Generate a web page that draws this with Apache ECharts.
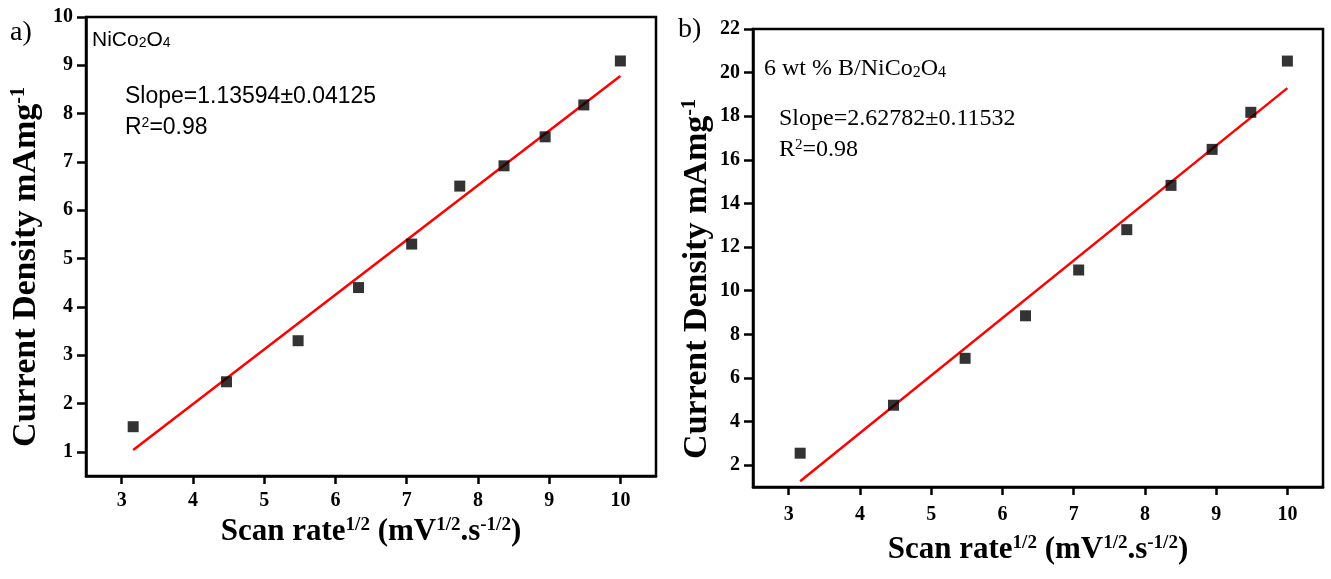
<!DOCTYPE html>
<html>
<head>
<meta charset="utf-8">
<style>
html,body{margin:0;padding:0;background:#fff;}
#chart{width:1331px;height:579px;}
</style>
<script src="https://cdn.jsdelivr.net/npm/echarts@6.0.0/dist/echarts.min.js"></script>
</head>
<body>
<div id="chart"></div>
<script>
// Data
const scanRateSqrt = [3.162, 4.472, 5.477, 6.325, 7.071, 7.746, 8.367, 8.944, 9.487, 10.0];
const densityA = [1.52, 2.45, 3.3, 4.4, 5.3, 6.5, 6.92, 7.52, 8.18, 9.09];
const densityB = [2.55, 4.75, 6.9, 8.85, 10.95, 12.8, 14.83, 16.48, 18.18, 20.53];
const fitX = [3.162, 10.0];
const fitA = [1.04, 8.78];
const fitB = [1.26, 19.29];
const xTicks = [3, 4, 5, 6, 7, 8, 9, 10];
const yTicksA = [1, 2, 3, 4, 5, 6, 7, 8, 9, 10];
const yTicksB = [2, 4, 6, 8, 10, 12, 14, 16, 18, 20, 22];
const xTitle = 'Scan rate{sup|1/2} (mV{sup|1/2}.s{sup|-1/2})';
const yTitle = 'Current Density mAmg{sup|-1}';

const SERIF = '"Liberation Serif", "Times New Roman", serif';
const SANS = '"Liberation Sans", Arial, sans-serif';

const pairs = (xs, ys) => xs.map((x, i) => [x, ys[i]]);

function xAxisCfg(gridIndex, labelMargin, nameGap) {
  return {
    type: 'value', gridIndex, min: 2.5, max: 10.5,
    name: xTitle,
    nameLocation: 'middle', nameGap,
    nameTextStyle: {fontFamily: SERIF, fontWeight: 'bold', fontSize: 31, color: '#000',
      rich: {sup: {fontFamily: SERIF, fontWeight: 'bold', fontSize: 19, verticalAlign: 'top', color: '#000'}}},
    axisLine: {show: true, onZero: false, lineStyle: {color: '#000', width: 2.5}},
    axisTick: {show: true, length: 8, lineStyle: {color: '#000', width: 2.5}, customValues: xTicks},
    axisLabel: {fontFamily: SERIF, fontWeight: 'bold', fontSize: 20, color: '#000', margin: labelMargin, customValues: xTicks},
    splitLine: {show: false}
  };
}
function yAxisCfg(gridIndex, min, max, ticks) {
  return {
    type: 'value', gridIndex, min, max,
    axisLine: {show: true, onZero: false, lineStyle: {color: '#000', width: 2.5}},
    axisTick: {show: true, length: 9, lineStyle: {color: '#000', width: 2.5}, customValues: ticks},
    axisLabel: {fontFamily: SERIF, fontWeight: 'bold', fontSize: 20, color: '#000', margin: 13, customValues: ticks},
    splitLine: {show: false}
  };
}
function yTitleGraphic(cx, cy) {
  return {type: 'text', x: cx, y: cy, rotation: Math.PI / 2, style: {
    text: yTitle, fontFamily: SERIF, fontWeight: 'bold', fontSize: 34, fill: '#000',
    align: 'center', verticalAlign: 'middle',
    rich: {sup: {fontFamily: SERIF, fontWeight: 'bold', fontSize: 20, verticalAlign: 'top', fill: '#000'}}}};
}

const chart = echarts.init(document.getElementById('chart'), null, {renderer: 'canvas'});
chart.setOption({
  animation: false,
  backgroundColor: '#fff',
  grid: [
    {left: 86, top: 17, width: 570, height: 459, show: true, borderColor: '#000', borderWidth: 2.5, backgroundColor: 'transparent'},
    {left: 753, top: 29, width: 570, height: 458, show: true, borderColor: '#000', borderWidth: 2.5, backgroundColor: 'transparent'}
  ],
  xAxis: [xAxisCfg(0, 15, 40), xAxisCfg(1, 18, 47)],
  yAxis: [yAxisCfg(0, 0.5, 10, yTicksA), yAxisCfg(1, 1, 22, yTicksB)],
  series: [
    {type: 'line', xAxisIndex: 0, yAxisIndex: 0, data: pairs(fitX, fitA), showSymbol: false, symbol: 'none',
      lineStyle: {color: '#ff0000', width: 2.5}, z: 2},
    {type: 'scatter', xAxisIndex: 0, yAxisIndex: 0, data: pairs(scanRateSqrt, densityA), symbol: 'rect', symbolSize: 11,
      itemStyle: {color: '#000'}, z: 3},
    {type: 'line', xAxisIndex: 1, yAxisIndex: 1, data: pairs(fitX, fitB), showSymbol: false, symbol: 'none',
      lineStyle: {color: '#ff0000', width: 2.5}, z: 2},
    {type: 'scatter', xAxisIndex: 1, yAxisIndex: 1, data: pairs(scanRateSqrt, densityB), symbol: 'rect', symbolSize: 11,
      itemStyle: {color: '#000'}, z: 3}
  ],
  graphic: [
    yTitleGraphic(26, 267),
    yTitleGraphic(697, 279),
    {type: 'text', x: 10, y: 33, style: {text: 'a)', fontFamily: SERIF, fontSize: 28, fill: '#000', verticalAlign: 'middle'}},
    {type: 'text', x: 678, y: 30, style: {text: 'b)', fontFamily: SERIF, fontSize: 28, fill: '#000', verticalAlign: 'middle'}},
    {type: 'text', x: 92, y: 40, style: {
      text: 'NiCo{sub|2}O{sub|4}', fontFamily: SANS, fontSize: 21, fill: '#000', verticalAlign: 'middle',
      rich: {sub: {fontFamily: SANS, fontSize: 14, verticalAlign: 'bottom', fill: '#000'}}}},
    {type: 'text', x: 125, y: 97, style: {
      text: 'Slope=1.13594±0.04125', fontFamily: SANS, fontSize: 23, fill: '#000', verticalAlign: 'middle'}},
    {type: 'text', x: 125, y: 128, style: {
      text: 'R{sup|2}=0.98', fontFamily: SANS, fontSize: 23, fill: '#000', verticalAlign: 'middle',
      rich: {sup: {fontFamily: SANS, fontSize: 14, verticalAlign: 'top', fill: '#000'}}}},
    {type: 'text', x: 764, y: 69, style: {
      text: '6 wt % B/NiCo{sub|2}O{sub|4}', fontFamily: SERIF, fontSize: 24, fill: '#000', verticalAlign: 'middle',
      rich: {sub: {fontFamily: SERIF, fontSize: 16, verticalAlign: 'bottom', fill: '#000'}}}},
    {type: 'text', x: 779, y: 119, style: {
      text: 'Slope=2.62782±0.11532', fontFamily: SERIF, fontSize: 24, fill: '#000', verticalAlign: 'middle'}},
    {type: 'text', x: 779, y: 150, style: {
      text: 'R{sup|2}=0.98', fontFamily: SERIF, fontSize: 24, fill: '#000', verticalAlign: 'middle',
      rich: {sup: {fontFamily: SERIF, fontSize: 15, verticalAlign: 'top', fill: '#000'}}}}
  ]
});
</script>
</body>
</html>
